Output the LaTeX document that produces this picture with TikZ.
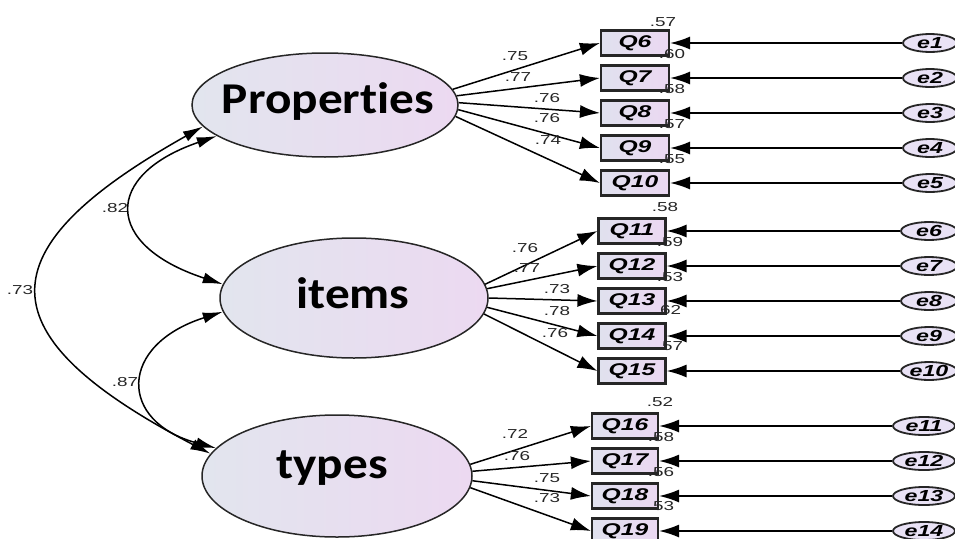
\documentclass[tikz,border=0pt]{standalone}
\usepackage{fontspec}
\usetikzlibrary{arrows.meta,shapes.geometric}
\newfontfamily\numfont[FakeStretch=1.45]{Liberation Sans}
\newfontfamily\bigfont[FakeStretch=1.12,Ligatures=NoCommon]{Carlito}
\definecolor{lvleft}{HTML}{E2E5EE}
\definecolor{lvright}{HTML}{ECD9F1}
\definecolor{obleft}{HTML}{E0E1EE}
\definecolor{obright}{HTML}{EBD8F2}
\definecolor{erfill}{HTML}{E9E2F5}
\begin{document}
\begin{tikzpicture}[x=1pt,y=-1pt,
  latent/.style={ellipse, draw=black!85, line width=1.5pt, inner sep=0pt,
    left color=lvleft, right color=lvright},
  obs/.style={rectangle, draw=black!85, line width=2.2pt, minimum height=25pt,
    inner sep=0pt, left color=obleft, right color=obright,
    font=\numfont\fontsize{17}{17}\selectfont\bfseries\itshape},
  err/.style={ellipse, draw=black!85, line width=1.8pt, minimum height=18pt,
    inner sep=0pt, fill=erfill,
    font=\numfont\fontsize{16}{16}\selectfont\bfseries\itshape},
  load/.style={-{Latex[length=20pt,width=13pt]}, line width=1.5pt},
  cov/.style={{Latex[length=20pt,width=11pt]}-{Latex[length=20pt,width=11pt]}, line width=1.5pt},
  num/.style={font=\numfont\fontsize{13}{13}\selectfont, text=black!85, inner sep=0pt},
  lvtext/.style={font=\bigfont\fontsize{44}{44}\selectfont\bfseries, anchor=base, inner sep=0pt}
]
\useasboundingbox (0,0) rectangle (955,538);

% latent variables
\node[latent, minimum width=266pt, minimum height=104pt] (P) at (325,105) {};
\node[latent, minimum width=268pt, minimum height=120pt] (I) at (354,298) {};
\node[latent, minimum width=270pt, minimum height=122pt] (T) at (337,476) {};
\node[lvtext] (Ptxt) at (328,113) {Properties};
\node[lvtext] (Itxt) at (353,308) {items};
\node[lvtext] (Ttxt) at (332,478) {types};

% observed variables
\node[obs, minimum width=68pt] (Q6)  at (635,43)  {Q6};
\node[obs, minimum width=68pt] (Q7)  at (635,78)  {Q7};
\node[obs, minimum width=68pt] (Q8)  at (635,113) {Q8};
\node[obs, minimum width=68pt] (Q9)  at (635,148) {Q9};
\node[obs, minimum width=68pt] (Q10) at (635,183) {Q10};
\node[obs, minimum width=67pt] (Q11) at (632,231) {Q11};
\node[obs, minimum width=67pt] (Q12) at (632,266) {Q12};
\node[obs, minimum width=67pt] (Q13) at (632,301) {Q13};
\node[obs, minimum width=67pt] (Q14) at (632,336) {Q14};
\node[obs, minimum width=67pt] (Q15) at (632,371) {Q15};
\node[obs, minimum width=66pt] (Q16) at (625,426) {Q16};
\node[obs, minimum width=66pt] (Q17) at (625,461) {Q17};
\node[obs, minimum width=66pt] (Q18) at (625,496) {Q18};
\node[obs, minimum width=66pt] (Q19) at (625,531) {Q19};

% error terms
\node[err, minimum width=54pt] (e1)  at (930,43)  {e1};
\node[err, minimum width=54pt] (e2)  at (930,78)  {e2};
\node[err, minimum width=54pt] (e3)  at (930,113) {e3};
\node[err, minimum width=54pt] (e4)  at (930,148) {e4};
\node[err, minimum width=54pt] (e5)  at (930,183) {e5};
\node[err, minimum width=56pt] (e6)  at (929,231) {e6};
\node[err, minimum width=56pt] (e7)  at (929,266) {e7};
\node[err, minimum width=56pt] (e8)  at (929,301) {e8};
\node[err, minimum width=56pt] (e9)  at (929,336) {e9};
\node[err, minimum width=56pt] (e10) at (929,371) {e10};
\node[err, minimum width=62pt] (e11) at (924,426) {e11};
\node[err, minimum width=62pt] (e12) at (924,461) {e12};
\node[err, minimum width=62pt] (e13) at (924,496) {e13};
\node[err, minimum width=62pt] (e14) at (924,531) {e14};

% loadings
\draw[load] (P.7)  -- (Q6.west);
\draw[load] (P.4)  -- (Q7.west);
\draw[load] (P.1)  -- (Q8.west);
\draw[load] (P.-2) -- (Q9.west);
\draw[load] (P.-5) -- (Q10.west);
\draw[load] (I.6)  -- (Q11.west);
\draw[load] (I.4)  -- (Q12.west);
\draw[load] (I.0)  -- (Q13.west);
\draw[load] (I.-4) -- (Q14.west);
\draw[load] (I.-7) -- (Q15.west);
\draw[load] (T.5)  -- (Q16.west);
\draw[load] (T.2)  -- (Q17.west);
\draw[load] (T.-2) -- (Q18.west);
\draw[load] (T.-5) -- (Q19.west);

% error paths
\foreach \e/\q in {e1/Q6,e2/Q7,e3/Q8,e4/Q9,e5/Q10,e6/Q11,e7/Q12,e8/Q13,e9/Q14,e10/Q15,e11/Q16,e12/Q17,e13/Q18,e14/Q19}
  \draw[load] (\e.west) -- (\q.east);

% covariances
\draw[cov] (P.190) .. controls (-17,250) and (-17,335) .. (T.170);
\draw[cov] (P.196) .. controls (103,175) and (103,245) .. (I.174);
\draw[cov] (I.186) .. controls (118,345) and (118,422) .. (T.167);

% covariance labels
\node[num] (c73) at (20,290)  {.73};
\node[num] (c82) at (115,208) {.82};
\node[num] (c87) at (125,382) {.87};

% loading labels
\node[num] (l6)  at (515,56)  {.75};
\node[num] (l7)  at (518,77)  {.77};
\node[num] (l8)  at (547,98)  {.76};
\node[num] (l9)  at (547,118) {.76};
\node[num] (l10) at (548,140) {.74};
\node[num] (l11) at (525,248) {.76};
\node[num] (l12) at (527,268) {.77};
\node[num] (l13) at (557,289) {.73};
\node[num] (l14) at (557,311) {.78};
\node[num] (l15) at (555,333) {.76};
\node[num] (l16) at (515,434) {.72};
\node[num] (l17) at (517,456) {.76};
\node[num] (l18) at (547,478) {.75};
\node[num] (l19) at (547,498) {.73};

% squared multiple correlations
\node[num] (r6)  at (663,22)  {.57};
\node[num] (r7)  at (672,54)  {.60};
\node[num] (r8)  at (672,89)  {.58};
\node[num] (r9)  at (672,124) {.57};
\node[num] (r10) at (672,159) {.55};
\node[num] (r11) at (665,207) {.58};
\node[num] (r12) at (670,242) {.59};
\node[num] (r13) at (670,277) {.53};
\node[num] (r14) at (668,310) {.62};
\node[num] (r15) at (670,346) {.57};
\node[num] (r16) at (660,402) {.52};
\node[num] (r17) at (661,437) {.58};
\node[num] (r18) at (661,472) {.56};
\node[num] (r19) at (661,506) {.53};
\end{tikzpicture}
\end{document}
